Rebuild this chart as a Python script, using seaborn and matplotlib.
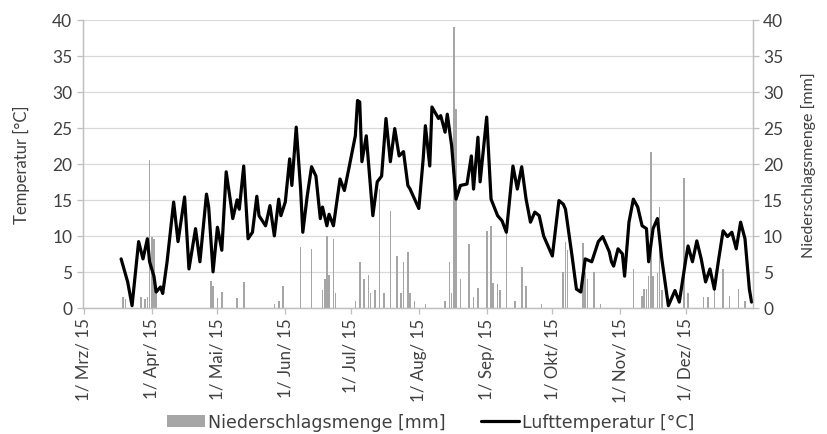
import numpy as np
import pandas as pd
import seaborn as sns
import matplotlib.pyplot as plt
from matplotlib.lines import Line2D
from matplotlib.patches import Patch

# daily air temperature (at turning points)
temp_dates = [
    "2015-03-18", "2015-03-21", "2015-03-23", "2015-03-26", "2015-03-28", "2015-03-30",
    "2015-03-31", "2015-04-02", "2015-04-03", "2015-04-05", "2015-04-06", "2015-04-08",
    "2015-04-11", "2015-04-13", "2015-04-16", "2015-04-18", "2015-04-21", "2015-04-23",
    "2015-04-26", "2015-04-27", "2015-04-29", "2015-05-01", "2015-05-03", "2015-05-05",
    "2015-05-07", "2015-05-08", "2015-05-10", "2015-05-11", "2015-05-13", "2015-05-15",
    "2015-05-17", "2015-05-19", "2015-05-20", "2015-05-23", "2015-05-25", "2015-05-27",
    "2015-05-29", "2015-05-30", "2015-06-01", "2015-06-03", "2015-06-04", "2015-06-06",
    "2015-06-08", "2015-06-09", "2015-06-11", "2015-06-13", "2015-06-15", "2015-06-17",
    "2015-06-18", "2015-06-20", "2015-06-21", "2015-06-23", "2015-06-26", "2015-06-28",
    "2015-06-30", "2015-07-03", "2015-07-04", "2015-07-05", "2015-07-06", "2015-07-08",
    "2015-07-11", "2015-07-13", "2015-07-15", "2015-07-17", "2015-07-19", "2015-07-21",
    "2015-07-23", "2015-07-25", "2015-07-27", "2015-07-28", "2015-08-01", "2015-08-03",
    "2015-08-04", "2015-08-06", "2015-08-07", "2015-08-10", "2015-08-11", "2015-08-13",
    "2015-08-14", "2015-08-16", "2015-08-18", "2015-08-20", "2015-08-23", "2015-08-25",
    "2015-08-26", "2015-08-28", "2015-08-29", "2015-09-01", "2015-09-03", "2015-09-06",
    "2015-09-08", "2015-09-10", "2015-09-13", "2015-09-15", "2015-09-17", "2015-09-19",
    "2015-09-21", "2015-09-23", "2015-09-25", "2015-09-27", "2015-10-01", "2015-10-04",
    "2015-10-06", "2015-10-07", "2015-10-10", "2015-10-12", "2015-10-14", "2015-10-16",
    "2015-10-19", "2015-10-22", "2015-10-24", "2015-10-27", "2015-10-28", "2015-10-29",
    "2015-10-31", "2015-11-02", "2015-11-03", "2015-11-05", "2015-11-07", "2015-11-09",
    "2015-11-11", "2015-11-13", "2015-11-14", "2015-11-16", "2015-11-18", "2015-11-20",
    "2015-11-23", "2015-11-26", "2015-11-28", "2015-12-01", "2015-12-02", "2015-12-04",
    "2015-12-06", "2015-12-08", "2015-12-10", "2015-12-12", "2015-12-14", "2015-12-16",
    "2015-12-18", "2015-12-20", "2015-12-22", "2015-12-24", "2015-12-26", "2015-12-28",
    "2015-12-30", "2015-12-31",
]
temp_c = [
    6.8, 3.6, 0.3, 9.2, 6.8, 9.6,
    6.4, 4.4, 2.2, 2.9, 2.0, 6.4,
    14.7, 9.2, 15.4, 5.4, 11.0, 6.4,
    15.8, 14.0, 5.0, 11.2, 8.0, 18.9,
    14.7, 12.4, 15.0, 13.7, 19.7, 9.6,
    10.5, 15.5, 12.8, 11.4, 14.2, 10.0,
    15.1, 12.8, 14.7, 20.7, 17.0, 25.1,
    16.5, 10.5, 15.5, 19.6, 18.3, 12.4,
    14.0, 11.4, 13.0, 11.4, 17.9, 16.3,
    19.3, 23.9, 28.8, 28.6, 20.3, 23.9,
    12.8, 17.5, 18.3, 26.3, 20.3, 24.9,
    21.1, 21.7, 17.0, 16.5, 13.8, 20.7,
    25.3, 19.7, 27.9, 26.3, 26.7, 24.4,
    26.9, 22.5, 15.1, 17.0, 17.2, 21.1,
    16.5, 23.7, 17.5, 26.5, 15.1, 12.8,
    12.1, 10.5, 19.7, 16.5, 19.6, 15.1,
    11.9, 13.3, 12.8, 10.0, 7.2, 14.9,
    14.4, 13.7, 7.2, 2.6, 2.2, 6.8,
    6.4, 9.2, 9.9, 7.8, 6.4, 5.8,
    8.2, 7.5, 4.4, 11.9, 15.1, 14.0,
    11.4, 11.0, 6.4, 11.0, 12.4, 6.8,
    0.3, 2.4, 0.8, 6.8, 8.6, 6.4,
    9.3, 6.8, 3.6, 5.4, 2.6, 6.8,
    10.7, 9.9, 10.5, 8.2, 11.9, 9.6,
    2.6, 0.8,
]

# daily precipitation (days with rain only)
rain_dates = [
    "2015-03-19", "2015-03-20", "2015-03-27", "2015-03-29", "2015-03-30", "2015-03-31",
    "2015-04-01", "2015-04-02", "2015-04-03", "2015-04-28", "2015-04-29", "2015-05-01",
    "2015-05-03", "2015-05-10", "2015-05-13", "2015-05-27", "2015-05-29", "2015-05-31",
    "2015-06-08", "2015-06-13", "2015-06-18", "2015-06-19", "2015-06-20", "2015-06-21",
    "2015-06-23", "2015-06-24", "2015-07-03", "2015-07-05", "2015-07-07", "2015-07-09",
    "2015-07-10", "2015-07-12", "2015-07-14", "2015-07-16", "2015-07-19", "2015-07-22",
    "2015-07-24", "2015-07-25", "2015-07-27", "2015-07-28", "2015-07-30", "2015-08-04",
    "2015-08-13", "2015-08-15", "2015-08-16", "2015-08-17", "2015-08-18", "2015-08-20",
    "2015-08-24", "2015-08-26", "2015-08-28", "2015-09-01", "2015-09-03", "2015-09-04",
    "2015-09-06", "2015-09-07", "2015-09-10", "2015-09-14", "2015-09-17", "2015-09-19",
    "2015-09-26", "2015-10-06", "2015-10-07", "2015-10-08", "2015-10-15", "2015-10-16",
    "2015-10-17", "2015-10-20", "2015-10-23", "2015-11-07", "2015-11-11", "2015-11-12",
    "2015-11-13", "2015-11-14", "2015-11-15", "2015-11-16", "2015-11-18", "2015-11-19",
    "2015-11-20", "2015-11-30", "2015-12-02", "2015-12-09", "2015-12-11", "2015-12-14",
    "2015-12-18", "2015-12-21", "2015-12-25", "2015-12-28",
]
rain_mm = [
    1.5, 1.2, 1.5, 1.2, 1.5, 20.5,
    9.8, 9.5, 2.0, 3.7, 3.0, 1.3,
    2.2, 1.3, 3.6, 0.5, 1.0, 3.0,
    8.5, 8.2, 2.5, 4.0, 10.0, 4.5,
    9.5, 2.0, 1.0, 6.4, 4.0, 4.5,
    2.0, 2.5, 16.5, 2.0, 13.5, 7.2,
    2.0, 6.4, 7.8, 2.0, 1.0, 0.5,
    1.0, 6.4, 2.0, 39.0, 27.6, 4.0,
    8.9, 1.5, 2.8, 10.7, 11.4, 3.5,
    3.3, 2.5, 10.5, 1.0, 5.7, 3.0,
    0.5, 5.0, 9.2, 8.0, 9.0, 5.0,
    4.0, 5.0, 0.5, 5.4, 1.7, 2.6,
    2.6, 4.4, 21.7, 4.4, 4.9, 14.0,
    2.5, 18.0, 2.0, 1.5, 1.5, 2.6,
    5.4, 1.7, 2.6, 1.0,
]

month_ticks = pd.date_range("2015-03-01", "2015-12-01", freq="MS")
month_labels = ["1/ Mrz/ 15", "1/ Apr/ 15", "1/ Mai/ 15", "1/ Jun/ 15", "1/ Jul/ 15",
                "1/ Aug/ 15", "1/ Sep/ 15", "1/ Okt/ 15", "1/ Nov/ 15", "1/ Dez/ 15"]

temp_df = pd.DataFrame({"date": pd.to_datetime(temp_dates), "temp": temp_c})
rain_df = pd.DataFrame({"date": pd.to_datetime(rain_dates), "mm": rain_mm})

sns.set_theme(style="white")
plt.rcParams["font.family"] = ["Lato", "DejaVu Sans"]
txt = "#404040"
axc = "#bfbfbf"

fig = plt.figure(figsize=(8.28, 4.35), dpi=100)
ax = fig.add_axes([0.100, 0.290, 0.809, 0.662])
ax2 = ax.twinx()

# bars on the secondary axis, drawn underneath the temperature line
ax2.bar(rain_df["date"], rain_df["mm"], width=0.75, color="#a6a6a6", linewidth=0, zorder=2)
ax2.set_ylim(0, 40)
ax2.set_yticks(np.arange(0, 41, 5))
ax2.yaxis.grid(True, color="#d9d9d9", linewidth=0.9)
ax2.set_axisbelow(True)

sns.lineplot(data=temp_df, x="date", y="temp", ax=ax, color="black", linewidth=2.3)
ax.set_zorder(ax2.get_zorder() + 1)
ax.patch.set_visible(False)

ax.set_ylim(0, 40)
ax.set_yticks(np.arange(0, 41, 5))
ax.set_xlim(pd.Timestamp("2015-02-28 12:00"), pd.Timestamp("2015-12-31 12:00"))
ax.set_xticks(month_ticks)
ax.set_xticklabels(month_labels, rotation=90)

for a in (ax, ax2):
    for s in a.spines.values():
        s.set_color(axc)
        s.set_linewidth(0.9)
    a.spines["top"].set_visible(False)
    a.tick_params(colors=axc, labelcolor=txt, labelsize=12.5, length=4, width=0.9,
                  direction="out")
ax.tick_params(axis="x", labelsize=12.2, pad=3)
ax.tick_params(left=True, bottom=True)
ax2.tick_params(right=True)

ax.set_xlabel("")
ax.set_ylabel("Temperatur [°C]", color=txt, fontsize=12, labelpad=16)
ax2.set_ylabel("Niederschlagsmenge [mm]", color=txt, fontsize=11.5, labelpad=13)

handles = [Patch(facecolor="#a6a6a6", edgecolor="none"),
           Line2D([0], [0], color="black", linewidth=2.3)]
fig.legend(handles, ["Niederschlagsmenge [mm]", "Lufttemperatur [°C]"],
           loc="lower center", bbox_to_anchor=(0.52, -0.03), ncol=2, frameon=False,
           prop={"family": "DejaVu Sans", "size": 12.5}, labelcolor=txt,
           handlelength=2.2, handletextpad=0.2, columnspacing=2.0)

fig.savefig("out.png", dpi=100)
